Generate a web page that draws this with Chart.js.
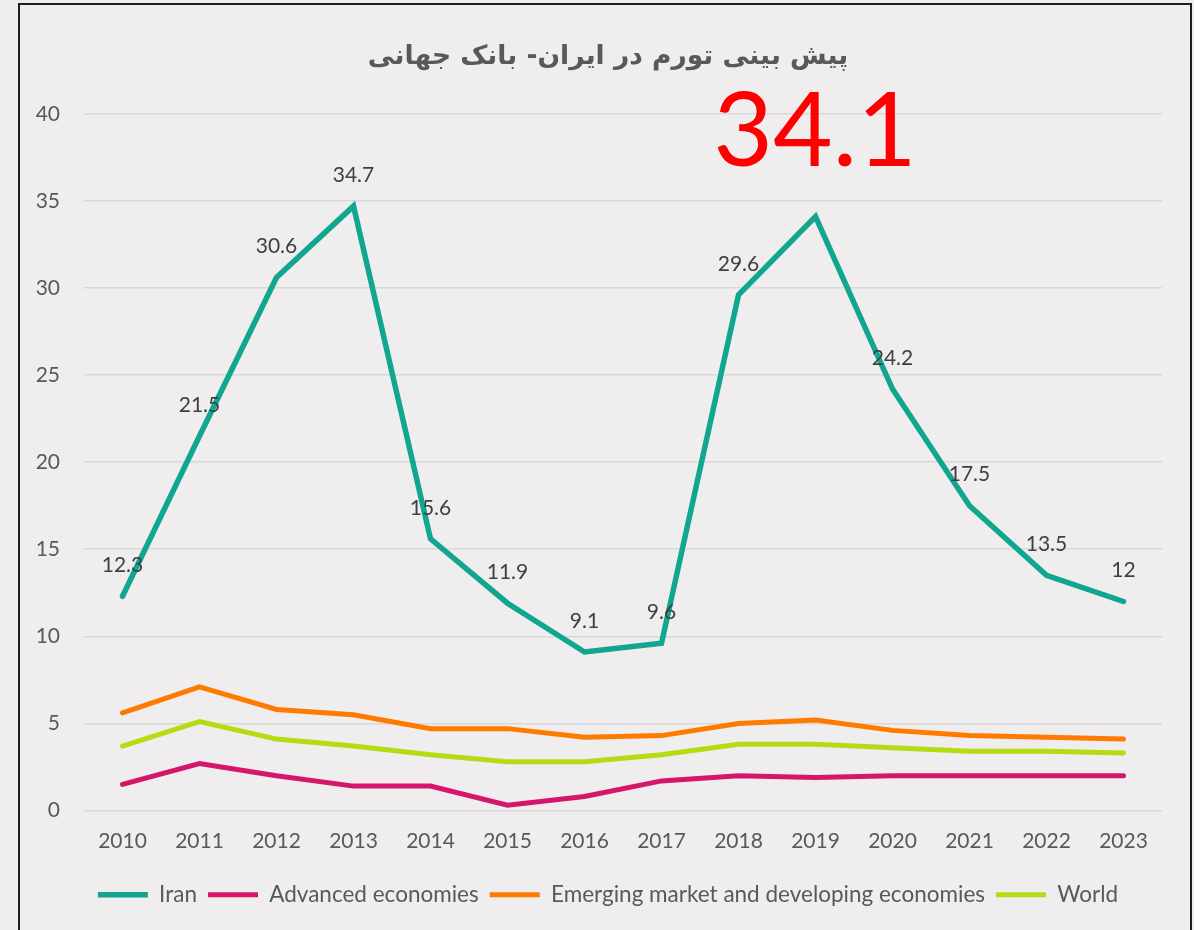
<!DOCTYPE html>
<html>
<head>
<meta charset="utf-8">
<script src="https://cdn.jsdelivr.net/npm/chart.js@4.4.1/dist/chart.umd.min.js"></script>
<style>
  html, body { margin: 0; padding: 0; background: #efedee; overflow: hidden; }
  #wrap { position: relative; width: 1194px; height: 930px; }
  #frame { position: absolute; left: 18px; top: 3px; width: 1170px; height: 940px; border: 2px solid #1e1e1e; pointer-events: none; }
  canvas { position: absolute; left: 0; top: 0; }
</style>
</head>
<body>
<div id="wrap">
  <canvas id="inflationChart" width="1194" height="930"></canvas>
  <div id="frame"></div>
</div>
<script>
// ─── Data ──────────────────────────────────────────────────────
const years      = ['2010','2011','2012','2013','2014','2015','2016','2017','2018','2019','2020','2021','2022','2023'];
const iran       = [12.3, 21.5, 30.6, 34.7, 15.6, 11.9, 9.1, 9.6, 29.6, 34.1, 24.2, 17.5, 13.5, 12];
const advanced   = [1.5, 2.7, 2.0, 1.4, 1.4, 0.3, 0.8, 1.7, 2.0, 1.9, 2.0, 2.0, 2.0, 2.0];
const emerging   = [5.6, 7.1, 5.8, 5.5, 4.7, 4.7, 4.2, 4.3, 5.0, 5.2, 4.6, 4.3, 4.2, 4.1];
const world      = [3.7, 5.1, 4.1, 3.7, 3.2, 2.8, 2.8, 3.2, 3.8, 3.8, 3.6, 3.4, 3.4, 3.3];
const yTicks     = [0, 5, 10, 15, 20, 25, 30, 35, 40];
const titleText  = 'پیش بینی تورم در ایران- بانک جهانی';
const highlight  = '34.1';
const highlightIdx = 9;   // this point gets the big red number instead of a small label

const FONT = 'Lato, "Open Sans", sans-serif';

// ─── Inline plugins ────────────────────────────────────────────
const iranLabels = {
    id: 'iranLabels',
    afterDatasetsDraw(chart) {
        const { ctx } = chart;
        const meta = chart.getDatasetMeta(0);
        ctx.save();
        ctx.font = `21px ${FONT}`;
        ctx.fillStyle = '#404040';
        ctx.textAlign = 'center';
        ctx.textBaseline = 'middle';
        meta.data.forEach((pt, i) => {
            if (i === highlightIdx) return;
            ctx.fillText(String(iran[i]), pt.x, pt.y - 31);
        });
        ctx.restore();
    }
};

const bigNumber = {
    id: 'bigNumber',
    afterDraw(chart) {
        const { ctx } = chart;
        ctx.save();
        ctx.font = `103px ${FONT}`;
        ctx.fillStyle = '#ff0000';
        ctx.textAlign = 'center';
        ctx.textBaseline = 'alphabetic';
        ctx.fillText(highlight, 815, 166);
        ctx.restore();
    }
};

// ─── Chart ─────────────────────────────────────────────────────
const line = (label, data, color, width) => ({
    label, data,
    borderColor: color,
    backgroundColor: color,
    borderWidth: width,
    borderCapStyle: 'round',
    borderJoinStyle: 'miter',
    pointRadius: 0,
    pointHoverRadius: 0,
    tension: 0,
    fill: false
});

new Chart(document.getElementById('inflationChart'), {
    type: 'line',
    data: {
        labels: years,
        datasets: [
            line('Iran',                                     iran,     '#10a68f', 5.5),
            line('Advanced economies',                       advanced, '#d6166d', 5),
            line('Emerging market and developing economies', emerging, '#ff7b00', 5),
            line('World',                                    world,    '#b5dc12', 5)
        ]
    },
    options: {
        responsive: false,
        animation: false,
        layout: { padding: { left: 34, right: 12, top: 0, bottom: 14 } },
        plugins: {
            legend: {
                position: 'bottom',
                labels: {
                    usePointStyle: true,
                    pointStyle: 'line',
                    pointStyleWidth: 50,
                    boxHeight: 6,
                    padding: 11,
                    color: '#595959',
                    font: { family: FONT, size: 22.5 }
                }
            },
            title: {
                display: true,
                text: titleText,
                color: '#595959',
                font: { family: '"DejaVu Sans", sans-serif', size: 26.5, weight: 'bold' },
                padding: { top: 41, bottom: 41 }
            },
            tooltip: { enabled: false }
        },
        scales: {
            x: {
                offset: true,
                grid: { display: false },
                border: { display: false },
                ticks: { color: '#595959', font: { family: FONT, size: 21 }, padding: 10, maxRotation: 0 },
                afterFit: s => { s.height = 62; }
            },
            y: {
                min: 0,
                max: 40,
                afterBuildTicks: s => { s.ticks = yTicks.map(v => ({ value: v })); },
                grid: { color: '#d9d9d9', lineWidth: 1.5, drawTicks: false },
                border: { display: false },
                ticks: { color: '#595959', font: { family: FONT, size: 21 }, padding: 24 },
                afterFit: s => { s.width = 50; }
            },
            // empty spacer on the right so the title centres like the original
            yRight: {
                position: 'right',
                display: true,
                grid: { display: false },
                border: { display: false },
                ticks: { display: false },
                afterFit: s => { s.width = 20; }
            }
        }
    },
    plugins: [iranLabels, bigNumber]
});
</script>
</body>
</html>
